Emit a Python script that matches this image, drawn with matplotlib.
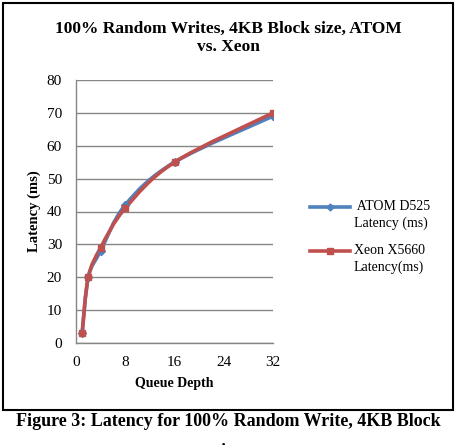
import numpy as np
import matplotlib
matplotlib.use("Agg")
import matplotlib.pyplot as plt
from matplotlib.path import Path
from matplotlib.patches import PathPatch, Rectangle
from matplotlib.lines import Line2D

# data
queue_depth = [1, 2, 4, 8, 16, 32]
atom_latency = [3, 20, 28, 42, 55, 69]
xeon_latency = [3, 20, 29, 41, 55, 70]

x_ticks = [0, 8, 16, 24, 32]
y_ticks = [0, 10, 20, 30, 40, 50, 60, 70, 80]

BLUE = "#4F81BD"
RED = "#C0504D"
GRID = "#868686"

plt.rcParams["font.family"] = ["Liberation Serif", "DejaVu Serif"]


def smooth_path(xs, ys):
    # Excel style smoothed line: Catmull-Rom segments drawn as cubic Beziers
    pts = np.column_stack([xs, ys]).astype(float)
    ext = np.vstack([pts[0], pts, pts[-1]])
    verts = [pts[0]]
    codes = [Path.MOVETO]
    for i in range(1, len(ext) - 2):
        p0, p1, p2, p3 = ext[i - 1], ext[i], ext[i + 1], ext[i + 2]
        verts += [p1 + (p2 - p0) / 6, p2 - (p3 - p1) / 6, p2]
        codes += [Path.CURVE4] * 3
    return Path(verts, codes)


fig = plt.figure(figsize=(4.57, 4.45), dpi=100)
ax = fig.add_axes([76 / 457, 1 - 343 / 445, 197 / 457, 263 / 445])

for ys, col, mk, ms in [(atom_latency, BLUE, "D", 4), (xeon_latency, RED, "s", 4.5)]:
    ax.add_patch(PathPatch(smooth_path(queue_depth, ys), facecolor="none",
                           edgecolor=col, lw=2.6, capstyle="round", zorder=3))
    ax.plot(queue_depth, ys, linestyle="none", marker=mk, ms=ms, color=col, zorder=4)

ax.set_xlim(0, 32)
ax.set_ylim(0, 80)
ax.set_xticks(x_ticks)
ax.set_yticks(y_ticks)
ax.tick_params(axis="both", labelsize=11, colors="black", length=0)
ax.tick_params(axis="y", pad=10)
ax.tick_params(axis="x", pad=9)
ax.yaxis.grid(True, color=GRID, lw=1)
ax.set_axisbelow(True)
for s in ["top", "right"]:
    ax.spines[s].set_visible(False)
for s in ["left", "bottom"]:
    ax.spines[s].set_color(GRID)
    ax.spines[s].set_linewidth(1)

ax.set_xlabel("Queue Depth", fontsize=10, fontweight="bold", labelpad=6)
ax.set_ylabel("Latency (ms)", fontsize=10.5, fontweight="bold", labelpad=4)

fig.text(0.5, 1 - 38 / 445, "100% Random Writes, 4KB Block size, ATOM\nvs. Xeon",
         ha="center", va="center", fontsize=12.5, fontweight="bold", linespacing=1.2)

# legend drawn by hand so the key sits on the first text line
for y_px, col, mk, ms, l1, l2 in [(207, BLUE, "D", 3.5, " ATOM D525", "Latency (ms)"),
                                   (251, RED, "s", 4, "Xeon X5660", "Latency(ms)")]:
    yf = 1 - y_px / 445
    fig.add_artist(Line2D([310 / 457, 350 / 457], [yf, yf], color=col, lw=2.6,
                          transform=fig.transFigure))
    fig.add_artist(Line2D([330 / 457], [yf], color=col, marker=mk, ms=ms,
                          transform=fig.transFigure))
    fig.text(354 / 457, yf, l1, ha="left", va="center", fontsize=10)
    fig.text(354 / 457, yf - 16 / 445, l2, ha="left", va="center", fontsize=10)

fig.add_artist(Rectangle((3 / 457, 1 - 410 / 445), 450 / 457, 407 / 445,
                         transform=fig.transFigure, fill=False, ec="black", lw=1.5))

fig.text(0.5, 1 - 422 / 445, "Figure 3: Latency for 100% Random Write, 4KB Block",
         ha="center", va="center", fontsize=13, fontweight="bold")
fig.text(0.5, 1 - 452 / 445, "size", ha="center", va="center",
         fontsize=13, fontweight="bold")

fig.savefig("out.png", dpi=100)
